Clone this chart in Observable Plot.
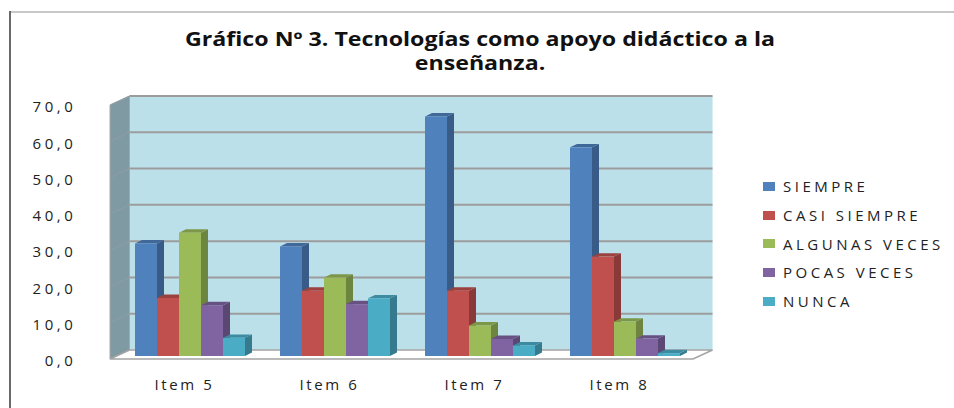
<!DOCTYPE html>
<html>
<head>
<meta charset="utf-8">
<script src="https://cdn.jsdelivr.net/npm/d3@7"></script>
<script src="https://cdn.jsdelivr.net/npm/@observablehq/plot@0.6"></script>
<style>
  html, body { margin: 0; padding: 0; background: #fff; }
  #wrap { position: relative; width: 954px; height: 408px; overflow: hidden; font-family: "Open Sans", sans-serif; }
  #frameTop { position: absolute; left: 9px; top: 11px; width: 945px; height: 0; border-top: 2px solid #c8c8c8; }
  #frameLeft { position: absolute; left: 9px; top: 11px; width: 0; height: 397px; border-left: 2px solid #6a6a6a; }
  #title { position: absolute; left: 0; top: 27px; width: 960px; text-align: center; font-weight: 700; font-size: 19px; line-height: 24px; color: #111; transform: scaleX(1.22); transform-origin: 480px 0; }
  #chart { position: absolute; left: 0; top: 80px; }
  #chart svg text { letter-spacing: 2.6px; }
  #chart svg g[aria-label="y-axis tick label"] text { letter-spacing: 3.6px; }
  #legend { position: absolute; left: 763px; top: 172px; }
  .row { height: 28.7px; display: flex; align-items: center; font-size: 15px; color: #222; letter-spacing: 3.5px; }
  .sw { width: 12px; height: 9px; margin-right: 8px; flex: none; }
</style>
</head>
<body>
<div id="wrap">
  <div id="frameTop"></div>
  <div id="frameLeft"></div>
  <div id="title">Gráfico Nº 3. Tecnologías como apoyo didáctico a la<br>enseñanza.</div>
  <div id="chart"></div>
  <div id="legend"></div>
</div>
<script>
// ---- data ----
const items = ["Item 5", "Item 6", "Item 7", "Item 8"];
const series = ["SIEMPRE", "CASI SIEMPRE", "ALGUNAS VECES", "POCAS VECES", "NUNCA"];
const siempre      = [31.0, 30.2, 66.0, 57.5];
const casiSiempre  = [16.0, 18.0, 18.0, 27.4];
const algunasVeces = [34.0, 21.6,  8.4,  9.5];
const pocasVeces   = [14.0, 14.3,  4.7,  4.8];
const nunca        = [ 5.0, 15.9,  2.9,  0.8];
const yTicks = [0, 10, 20, 30, 40, 50, 60, 70];
const colors = ["#4F81BD", "#C0504D", "#9BBB59", "#8064A2", "#4BACC6"];

const seriesValues = [siempre, casiSiempre, algunasVeces, pocasVeces, nunca];
const data = [];
items.forEach((item, i) => {
  series.forEach((s, k) => data.push({item, series: s, value: seriesValues[k][i]}));
});

// plot frame
const W = 954, H = 328, ML = 110, MR = 261, MT = 25, MB = 49;

const ns = "http://www.w3.org/2000/svg";

// 3D extrusion of each bar (side + top faces), from the rects Plot drew
function box3d(index, scales, values, dimensions, context, next) {
  const g = next(index, scales, values, dimensions, context);
  const ddx = 7, ddy = -3.4;
  for (const r of Array.from(g.querySelectorAll("rect"))) {
    const x = +r.getAttribute("x"), y = +r.getAttribute("y");
    const w = +r.getAttribute("width"), h = +r.getAttribute("height");
    const fill = r.getAttribute("fill");
    const side = document.createElementNS(ns, "path");
    side.setAttribute("d", `M${x + w},${y}L${x + w + ddx},${y + ddy}L${x + w + ddx},${y + h + ddy}L${x + w},${y + h}Z`);
    side.setAttribute("fill", d3.color(fill).darker(0.95).formatHex());
    const top = document.createElementNS(ns, "path");
    top.setAttribute("d", `M${x},${y}L${x + ddx},${y + ddy}L${x + w + ddx},${y + ddy}L${x + w},${y}Z`);
    top.setAttribute("fill", d3.color(fill).darker(0.6).formatHex());
    r.parentNode.insertBefore(side, r);
    r.parentNode.insertBefore(top, r);
  }
  return g;
}

// walls, floor and gridlines of the 3D box, placed with the y scale
function walls(index, scales) {
  const y = scales.y;
  const x0 = ML, x1 = W - MR;
  const DX = 19.5, DY = -9;
  const yb = y(0), yt = y(d3.max(yTicks));
  const g = d3.create("svg:g");
  g.append("rect").attr("x", x0 + DX).attr("y", yt + DY).attr("width", x1 - x0).attr("height", yb - yt)
    .attr("fill", "#BCE0EA").attr("stroke", "#d6eef4").attr("stroke-width", 1);
  g.append("path").attr("d", `M${x0},${yb}L${x0 + DX},${yb + DY}L${x0 + DX},${yt + DY}L${x0},${yt}Z`)
    .attr("fill", "#7F9AA2").attr("stroke", "#a8a8a8").attr("stroke-width", 1);
  for (const t of yTicks) {
    if (t === 0) continue;
    g.append("path").attr("d", `M${x0},${y(t)}L${x0 + DX},${y(t) + DY}`)
      .attr("fill", "none").attr("stroke", "#8f9ea3").attr("stroke-width", 1);
    g.append("path").attr("d", `M${x0 + DX},${y(t) + DY}L${x1 + DX},${y(t) + DY}`)
      .attr("fill", "none").attr("stroke", "#9c9c9c").attr("stroke-width", 2);
  }
  g.append("path").attr("d", `M${x0},${yb}L${x0 + DX},${yb + DY}L${x1 + DX},${yb + DY}L${x1},${yb}Z`)
    .attr("fill", "#ffffff").attr("stroke", "#a4a4a4").attr("stroke-width", 1.5);
  return g.node();
}

const chart = Plot.plot({
  width: W,
  height: H,
  marginLeft: ML,
  marginRight: MR,
  marginTop: MT,
  marginBottom: MB,
  style: {fontFamily: "Open Sans", fontSize: "15px", color: "#222", background: "transparent"},
  fx: {domain: items, paddingInner: 0.23, paddingOuter: 0.115, label: null, axis: "bottom", tickSize: 0, tickPadding: 20},
  x: {domain: series, padding: 0, axis: null},
  y: {domain: [0, 70], ticks: yTicks, tickSize: 0, label: null,
      tickFormat: d => d.toFixed(1).replace(".", ",")},
  color: {domain: series, range: colors},
  marks: [
    Plot.frame({facet: "super", stroke: "none", render: walls}),
    Plot.axisY({ticks: yTicks, tickSize: 0, tickPadding: 52, dy: 2, label: null,
      tickFormat: d => d.toFixed(1).replace(".", ",")}),
    Plot.barY(data, {fx: "item", x: "series", y: "value", fill: "series", dx: 6, dy: -3, render: box3d})
  ]
});
document.getElementById("chart").appendChild(chart);

const legend = d3.select("#legend");
series.forEach((s, k) => {
  const row = legend.append("div").attr("class", "row");
  row.append("div").attr("class", "sw").style("background", colors[k]);
  row.append("span").text(s);
});
</script>
</body>
</html>
